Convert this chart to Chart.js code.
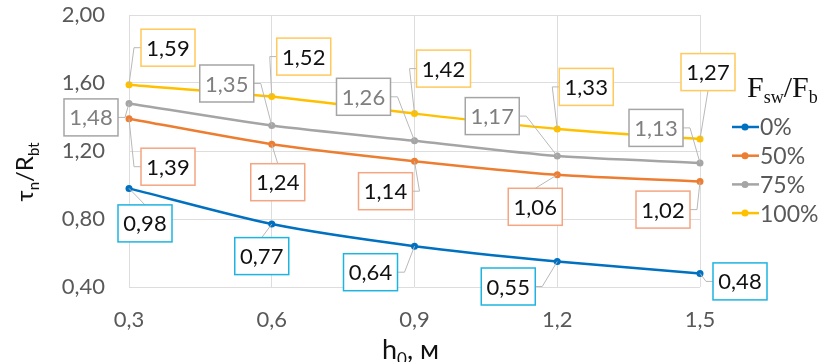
<!DOCTYPE html>
<html>
<head>
<meta charset="utf-8">
<script src="https://cdn.jsdelivr.net/npm/chart.js@4/dist/chart.umd.min.js"></script>
<style>
  html, body { margin: 0; padding: 0; background: #fff; }
  #wrap { width: 821px; height: 362px; position: relative; }
</style>
</head>
<body>
<div id="wrap"><canvas id="myChart" width="821" height="362"></canvas></div>
<script>
// данные
const categories = ["0,3", "0,6", "0,9", "1,2", "1,5"];
const seriesNames = ["0%", "50%", "75%", "100%"];
const s0 = [0.98, 0.77, 0.64, 0.55, 0.48];
const s50 = [1.39, 1.24, 1.14, 1.06, 1.02];
const s75 = [1.48, 1.35, 1.26, 1.17, 1.13];
const s100 = [1.59, 1.52, 1.42, 1.33, 1.27];
const yTicks = [0.4, 0.8, 1.2, 1.6, 2.0];

// стили серий
const lineColors = ["#0070C0", "#ED7D31", "#A5A5A5", "#FFC000"];
const boxColors = ["#1FB4E0", "#F4A582", "#A5A5A5", "#FFC95C"];
const textColors = ["#111", "#111", "#7F7F7F", "#111"];

// смещения подписей (центр рамки относительно точки)
const labelOffsets = [
  [[16, 35], [-10, 32], [-44, 26], [-49, 25], [40, 8]],
  [[39, 48], [6, 38], [-29, 30], [-22, 32], [-37, 28]],
  [[-38, 14], [-45, -42], [-51, -44], [-65, -40], [-44, -35]],
  [[39, -37], [32, -40], [29, -45], [29, -42], [8, -67]]
];

const fmt = (v, d) => v.toFixed(d).replace(".", ",");

// текст с нижними индексами: [[текст, индекс?], ...]
function drawParts(ctx, parts, x, y, big, small) {
  parts.forEach(([t, sub]) => {
    ctx.font = sub ? small : big;
    ctx.fillText(t, x, sub ? y + 6 : y);
    x += ctx.measureText(t).width;
  });
}
function partsWidth(ctx, parts, big, small) {
  let w = 0;
  parts.forEach(([t, sub]) => { ctx.font = sub ? small : big; w += ctx.measureText(t).width; });
  return w;
}

const labelsPlugin = {
  id: "boxLabels",
  afterDatasetsDraw(chart) {
    const ctx = chart.ctx;
    ctx.save();
    ctx.font = "22px Lato";
    ctx.textAlign = "center";
    ctx.textBaseline = "middle";
    chart.data.datasets.forEach((ds, i) => {
      const meta = chart.getDatasetMeta(i);
      meta.data.forEach((pt, j) => {
        const [dx, dy] = labelOffsets[i][j];
        const cx = pt.x + dx, cy = pt.y + dy;
        const w = 54, h = 37;
        const l = cx - w / 2, r = cx + w / 2, t = cy - h / 2, b = cy + h / 2;
        // выноска
        ctx.strokeStyle = "#B8B8B8";
        ctx.lineWidth = 1;
        ctx.beginPath();
        ctx.moveTo(pt.x, pt.y);
        if (pt.x < l) { ctx.lineTo(l - 7, cy); ctx.lineTo(l, cy); }
        else if (pt.x > r) { ctx.lineTo(r + 7, cy); ctx.lineTo(r, cy); }
        else if (pt.y < t) { ctx.lineTo(cx, t); }
        else { ctx.lineTo(cx, b); }
        ctx.stroke();
        ctx.fillStyle = "#fff";
        ctx.fillRect(l, t, w, h);
        ctx.strokeStyle = boxColors[i];
        ctx.lineWidth = 1.5;
        ctx.strokeRect(l, t, w, h);
        ctx.fillStyle = textColors[i];
        ctx.fillText(fmt(ds.data[j], 2), cx, cy + 1);
      });
    });
    ctx.restore();
  },
  afterDraw(chart) {
    const ctx = chart.ctx;
    ctx.save();
    ctx.fillStyle = "#111";
    ctx.textBaseline = "alphabetic";
    // подпись оси X
    drawParts(ctx, [["h"], ["0", 1], [", м"]], 382, 359, "27px Lato", "17px Lato");
    // подпись оси Y
    const yParts = [["τ"], ["n", 1], ["/R"], ["bt", 1]];
    const yw = partsWidth(ctx, yParts, "24px Lato", "15px Lato");
    ctx.save();
    ctx.translate(33, 172);
    ctx.rotate(-Math.PI / 2);
    drawParts(ctx, yParts, -yw / 2, 0, "24px Lato", "15px Lato");
    ctx.restore();
    // легенда
    drawParts(ctx, [["F"], ["sw", 1], ["/F"], ["b", 1]], 747, 97, "30px 'Liberation Serif'", "18px 'Liberation Serif'");
    ctx.font = "23px Lato";
    ctx.textBaseline = "middle";
    seriesNames.forEach((name, i) => {
      const ly = 127 + i * 28.7;
      ctx.strokeStyle = lineColors[i];
      ctx.lineWidth = 2.5;
      ctx.beginPath(); ctx.moveTo(732, ly); ctx.lineTo(759, ly); ctx.stroke();
      ctx.fillStyle = lineColors[i];
      ctx.beginPath(); ctx.arc(745, ly, 3.5, 0, Math.PI * 2); ctx.fill();
      ctx.fillStyle = "#595959";
      ctx.fillText(name, 760, ly + 1);
    });
    ctx.restore();
  }
};

const seriesData = [s0, s50, s75, s100];
const ctx = document.getElementById("myChart").getContext("2d");

new Chart(ctx, {
  type: "line",
  data: {
    labels: categories,
    datasets: seriesData.map((d, i) => ({
      label: seriesNames[i],
      data: d,
      borderColor: lineColors[i],
      backgroundColor: lineColors[i],
      borderWidth: 2.5,
      pointRadius: 3.5,
      pointBorderWidth: 0,
      tension: 0.25
    }))
  },
  options: {
    responsive: false,
    animation: false,
    layout: { padding: { top: 15, right: 121, left: 0, bottom: 0 } },
    plugins: { legend: { display: false }, tooltip: { enabled: false } },
    scales: {
      x: {
        offset: false,
        grid: { color: "#DDDDDD", drawTicks: false },
        border: { display: false },
        ticks: { color: "#595959", font: { family: "Lato", size: 22 }, padding: 20 },
        afterFit: (s) => { s.height = 75; s.paddingTop = 0; s.paddingBottom = 0; }
      },
      y: {
        min: 0.4,
        max: 2.0,
        afterBuildTicks: (s) => { s.ticks = yTicks.map((v) => ({ value: v })); },
        grid: { color: "#DDDDDD", drawTicks: false },
        border: { display: false },
        ticks: {
          color: "#595959",
          font: { family: "Lato", size: 22 },
          padding: 24,
          callback: (v) => fmt(v, 2)
        },
        afterFit: (s) => { s.width = 129; s.paddingTop = 0; s.paddingBottom = 0; }
      }
    }
  },
  plugins: [labelsPlugin]
});
</script>
</body>
</html>
